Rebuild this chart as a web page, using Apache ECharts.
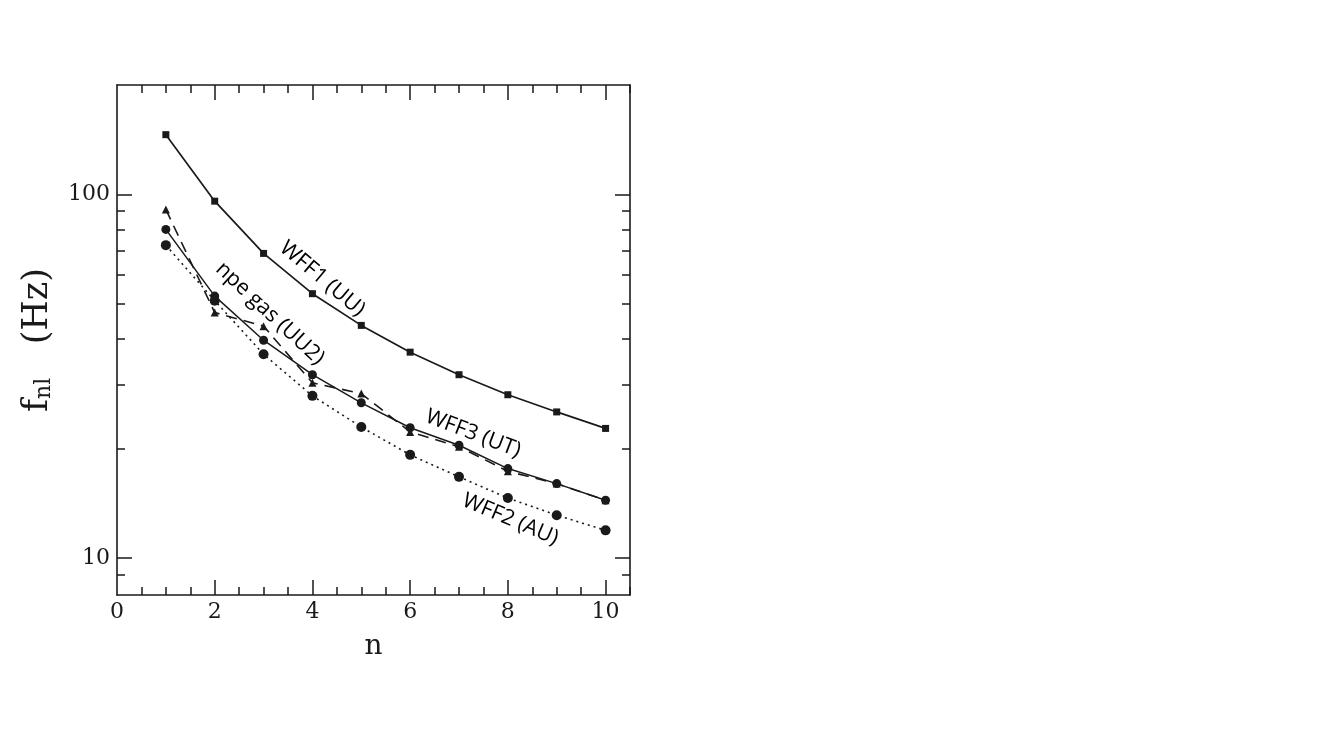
<!DOCTYPE html>
<html>
<head>
<meta charset="utf-8">
<script src="https://cdn.jsdelivr.net/npm/echarts@6/dist/echarts.min.js"></script>
<style>
  html, body { margin: 0; padding: 0; background: #fff; }
  #chart { width: 1334px; height: 750px; }
</style>
</head>
<body>
<div id="chart"></div>
<script>
// mode number n
var nValues = [1, 2, 3, 4, 5, 6, 7, 8, 9, 10];

// f_nl in Hz
var wff1 = [146, 95.8, 68.8, 53.3, 43.6, 36.8, 31.9, 28.1, 25.2, 22.7];
var npeGas = [90.9, 47.3, 43.4, 30.3, 28.3, 22.2, 20.2, 17.3, 16.0, 14.4];
var wff3 = [80.1, 52.5, 39.7, 31.9, 26.7, 22.8, 20.4, 17.6, 16.0, 14.4];
var wff2 = [72.5, 51.0, 36.3, 27.9, 22.9, 19.2, 16.7, 14.6, 13.1, 11.9];

// ticks
var xLabelTicks = [0, 2, 4, 6, 8, 10];
var xMajorTicks = [2, 4, 6, 8, 10];
var xMinorTicks = [0.5, 1, 1.5, 2.5, 3, 3.5, 4.5, 5, 5.5, 6.5, 7, 7.5, 8.5, 9, 9.5, 10.5];
var yMajorTicks = [10, 100];
var yMinorTicks = [9, 20, 30, 40, 50, 60, 70, 80, 90];

// curve annotations (text, n, f, angle in degrees)
var annoText = ['WFF1 (UU)', 'npe gas (UU2)', 'WFF3 (UT)', 'WFF2 (AU)'];
var annoN = [4.2, 3.13, 7.29, 8.05];
var annoF = [58.6, 47.0, 21.96, 12.75];
var annoAngle = [40, 43, 21, 23];

var ink = '#1a1a1a';
var serif = 'DejaVu Serif';

function pairs(ys) {
  return nValues.map(function (n, i) { return [n, ys[i]]; });
}

function xAx(pos, ticks, len, showLine, labels) {
  return {
    type: 'value', position: pos, min: 0, max: 10.5,
    axisLine: { show: showLine, onZero: false, lineStyle: { color: ink, width: 1.6 } },
    axisTick: { show: true, inside: true, length: len, customValues: ticks,
      lineStyle: { color: ink, width: 1.5 } },
    axisLabel: labels ? { show: true, customValues: xLabelTicks, margin: 6,
      color: ink, fontFamily: serif, fontSize: 22 } : { show: false },
    splitLine: { show: false }
  };
}

function yAx(pos, ticks, len, showLine, labels) {
  return {
    type: 'log', logBase: 10, position: pos, min: 7.9, max: 200,
    axisLine: { show: showLine, onZero: false, lineStyle: { color: ink, width: 1.6 } },
    axisTick: { show: true, inside: true, length: len, customValues: ticks,
      lineStyle: { color: ink, width: 1.5 } },
    axisLabel: labels ? { show: true, customValues: yMajorTicks, margin: 7,
      color: ink, fontFamily: serif, fontSize: 22 } : { show: false },
    splitLine: { show: false }
  };
}

var chart = echarts.init(document.getElementById('chart'));

var xAxes = [
  xAx('bottom', xMajorTicks, 15, true, true),
  xAx('bottom', xMinorTicks, 8, false, false),
  xAx('top', xMajorTicks, 15, true, false),
  xAx('top', xMinorTicks, 8, false, false)
];
xAxes[0].name = 'n';
xAxes[0].nameLocation = 'middle';
xAxes[0].nameGap = 38;
xAxes[0].nameTextStyle = { color: ink, fontFamily: serif, fontSize: 28 };

var yAxes = [
  yAx('left', yMajorTicks, 15, true, true),
  yAx('left', yMinorTicks, 8, false, false),
  yAx('right', yMajorTicks, 15, true, false),
  yAx('right', yMinorTicks, 8, false, false)
];
yAxes[0].name = '{f|f}{s|nl}{f|   (Hz)}';
yAxes[0].nameLocation = 'middle';
yAxes[0].nameRotate = 90;
yAxes[0].nameGap = 62;
yAxes[0].nameTextStyle = {
  rich: {
    f: { color: ink, fontFamily: serif, fontSize: 35, lineHeight: 40, verticalAlign: 'bottom' },
    s: { color: ink, fontFamily: serif, fontSize: 22, lineHeight: 22, verticalAlign: 'bottom' }
  }
};

var option = {
  backgroundColor: '#fff',
  animation: false,
  grid: { left: 117, right: 704, top: 85, bottom: 155 },
  xAxis: xAxes,
  yAxis: yAxes,
  series: [
    {
      name: 'WFF1 (UU)', type: 'line', data: pairs(wff1),
      symbol: 'rect', symbolSize: 7,
      lineStyle: { color: ink, width: 1.7 }, itemStyle: { color: ink }
    },
    {
      name: 'npe gas (UU2)', type: 'line', data: pairs(npeGas),
      symbol: 'triangle', symbolSize: 8,
      lineStyle: { color: ink, width: 1.6, type: [11, 7] }, itemStyle: { color: ink }
    },
    {
      name: 'WFF3 (UT)', type: 'line', data: pairs(wff3),
      symbol: 'circle', symbolSize: 9,
      lineStyle: { color: ink, width: 1.5 }, itemStyle: { color: ink }
    },
    {
      name: 'WFF2 (AU)', type: 'line', data: pairs(wff2),
      symbol: 'circle', symbolSize: 10,
      lineStyle: { color: ink, width: 1.6, type: [2, 4] }, itemStyle: { color: ink }
    }
  ]
};
chart.setOption(option);

// place the rotated curve names at data coordinates
var texts = annoText.map(function (t, i) {
  var p = chart.convertToPixel({ xAxisIndex: 0, yAxisIndex: 0 }, [annoN[i], annoF[i]]);
  return {
    type: 'text', x: p[0], y: p[1],
    rotation: -annoAngle[i] * Math.PI / 180,
    style: { text: t, fill: '#000', font: '21.5px "Open Sans"',
      textAlign: 'center', textVerticalAlign: 'middle' }
  };
});
chart.setOption({ graphic: texts });
</script>
</body>
</html>
